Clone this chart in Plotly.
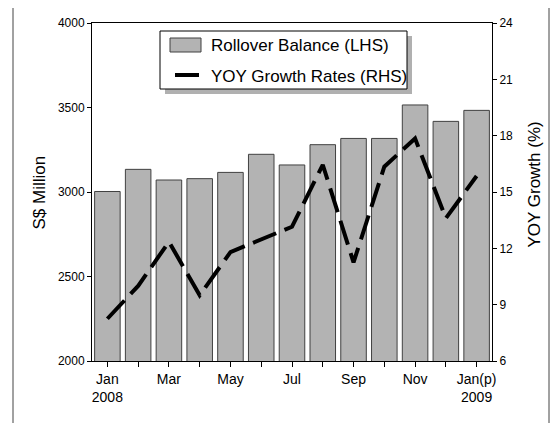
import plotly.graph_objects as go

categories = ["Jan", "Feb", "Mar", "Apr", "May", "Jun", "Jul", "Aug", "Sep", "Oct", "Nov", "Dec", "Jan(p)"]
tick_labels = ["Jan<br>2008", "", "Mar", "", "May", "", "Jul", "", "Sep", "", "Nov", "", "Jan(p)<br>2009"]
rollover_balance = [3003, 3134, 3071, 3079, 3116, 3223, 3160, 3280, 3317, 3317, 3515, 3418, 3483]
yoy_growth = [8.25, 10.0, 12.35, 9.5, 11.8, 12.45, 13.15, 16.45, 11.25, 16.35, 17.85, 13.6, 15.85]
series_names = ["Rollover Balance (LHS)", "YOY Growth Rates (RHS)"]
axis_titles = ["S$ Million", "YOY Growth (%)"]

FONT = "Liberation Sans"
BAR_FILL = "#b3b3b3"
BAR_LINE = "#404040"

fig = go.Figure()
fig.add_trace(go.Bar(
    x=categories, y=rollover_balance, name=series_names[0],
    marker=dict(color=BAR_FILL, line=dict(color=BAR_LINE, width=1)),
    yaxis="y", showlegend=False,
))
fig.add_trace(go.Scatter(
    x=categories, y=yoy_growth, name=series_names[1], mode="lines",
    line=dict(color="black", width=4, dash="25px,9px"),
    yaxis="y2", showlegend=False,
))

# custom legend (box with drop shadow, large swatches)
shapes = [
    dict(type="rect", xref="paper", yref="paper", x0=-0.1975, x1=1.1425, y0=-0.3, y1=1.0473,
         line=dict(color="#444444", width=1), fillcolor="rgba(0,0,0,0)", layer="below"),
    dict(type="rect", xref="paper", yref="paper", x0=0.1825, x1=0.80, y0=0.79, y1=0.9615,
         line=dict(width=0), fillcolor="#b0b0b0", layer="above"),
    dict(type="rect", xref="paper", yref="paper", x0=0.17, x1=0.7875, y0=0.8047, y1=0.9763,
         line=dict(color="black", width=1), fillcolor="white", layer="above"),
    dict(type="rect", xref="paper", yref="paper", x0=0.195, x1=0.2725, y0=0.9142, y1=0.9556,
         line=dict(color=BAR_LINE, width=1), fillcolor=BAR_FILL, layer="above"),
    dict(type="line", xref="paper", yref="paper", x0=0.2075, x1=0.2675, y0=0.8462, y1=0.8462,
         line=dict(color="black", width=4), layer="above"),
]
annotations = [
    dict(xref="paper", yref="paper", x=0.2925, y=0.932, text=series_names[0], showarrow=False,
         xanchor="left", yanchor="middle", font=dict(size=17, family=FONT, color="black")),
    dict(xref="paper", yref="paper", x=0.2925, y=0.843, text=series_names[1], showarrow=False,
         xanchor="left", yanchor="middle", font=dict(size=17, family=FONT, color="black")),
    dict(xref="paper", yref="paper", x=-0.13, y=0.4985, text=axis_titles[0], showarrow=False,
         textangle=-90, xanchor="center", yanchor="middle",
         font=dict(size=17, family=FONT, color="black")),
    dict(xref="paper", yref="paper", x=1.1075, y=0.522, text=axis_titles[1], showarrow=False,
         textangle=-90, xanchor="center", yanchor="middle",
         font=dict(size=17, family=FONT, color="black")),
]

fig.update_layout(
    width=550, height=415,
    margin=dict(l=84, r=66, t=15, b=62),
    paper_bgcolor="white", plot_bgcolor="white",
    font=dict(family=FONT, color="black", size=12),
    bargap=0.17,
    showlegend=False,
    xaxis=dict(
        type="category", tickmode="array", tickvals=categories, ticktext=tick_labels,
        showline=True, linecolor="black", linewidth=1, mirror=True,
        ticks="outside", ticklen=5, tickcolor="black", automargin=False,
        tickfont=dict(size=14), showgrid=False,
    ),
    yaxis=dict(
        range=[2000, 4000], tickvals=[2000, 2500, 3000, 3500, 4000],
        showline=True, linecolor="black", linewidth=1, automargin=False,
        ticks="outside", ticklen=4, tickcolor="black",
        showgrid=False, zeroline=False, tickfont=dict(size=12),
    ),
    yaxis2=dict(
        range=[6, 24], tickvals=[6, 9, 12, 15, 18, 21, 24], overlaying="y", side="right",
        showline=True, linecolor="black", linewidth=1, automargin=False,
        ticks="outside", ticklen=4, tickcolor="black",
        showgrid=False, zeroline=False, tickfont=dict(size=12),
    ),
    shapes=shapes,
    annotations=annotations,
)

fig.write_html("out.html")
